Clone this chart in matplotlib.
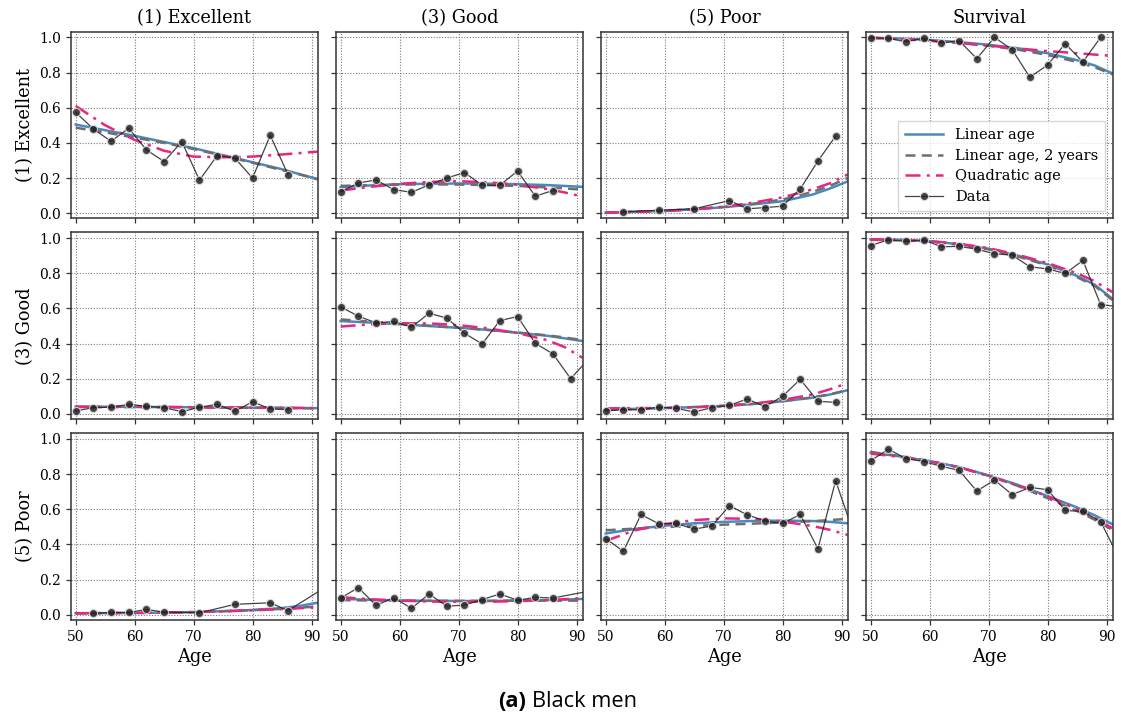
import numpy as np
import matplotlib.pyplot as plt

plt.rcParams['font.family'] = ['DejaVu Serif']

# observed transition shares, ages 50..92 in steps of 3 (nan = no observation)
ages = [50, 53, 56, 59, 62, 65, 68, 71, 74, 77, 80, 83, 86, 89, 92]
nan = np.nan

ex_ex = [0.574, 0.479, 0.409, 0.483, 0.360, 0.294, 0.407, 0.188, 0.328, 0.314, 0.200, 0.443, 0.220, nan, nan]
ex_good = [0.121, 0.172, 0.189, 0.134, 0.119, 0.161, 0.200, 0.231, 0.159, 0.159, 0.240, 0.097, 0.129, nan, nan]
ex_poor = [nan, 0.008, nan, 0.017, nan, 0.025, nan, 0.072, 0.025, 0.032, 0.040, 0.138, 0.297, 0.438, nan]
ex_surv = [0.998, 0.994, 0.975, 0.996, 0.968, 0.981, 0.879, 1.000, 0.930, 0.773, 0.843, 0.964, 0.860, 1.000, nan]

good_ex = [0.017, 0.036, 0.038, 0.055, 0.044, 0.036, 0.013, 0.038, 0.055, 0.015, 0.070, 0.028, 0.025, nan, nan]
good_good = [0.609, 0.556, 0.518, 0.526, 0.493, 0.573, 0.545, 0.459, 0.398, 0.531, 0.554, 0.402, 0.342, 0.201, 0.310]
good_poor = [0.017, 0.025, 0.023, 0.040, 0.032, 0.011, 0.036, 0.049, 0.085, 0.042, 0.100, 0.197, 0.072, 0.066, nan]
good_surv = [0.958, 0.990, 0.981, 0.990, 0.951, 0.953, 0.937, 0.911, 0.903, 0.837, 0.825, 0.799, 0.873, 0.622, 0.610]

poor_ex = [nan, 0.008, 0.013, 0.013, 0.030, 0.015, nan, 0.011, nan, 0.059, nan, 0.068, 0.023, nan, 0.149]
poor_good = [0.095, 0.154, 0.053, 0.097, 0.036, 0.118, 0.048, 0.055, 0.086, 0.118, 0.082, 0.099, 0.095, nan, 0.133]
poor_poor = [0.433, 0.361, 0.570, 0.517, 0.519, 0.487, 0.504, 0.620, 0.568, 0.534, 0.519, 0.570, 0.375, 0.762, 0.470]
poor_surv = [0.876, 0.941, 0.888, 0.871, 0.844, 0.821, 0.703, 0.766, 0.683, 0.724, 0.711, 0.593, 0.587, 0.530, 0.330]

# fitted probabilities: linear age, linear age 2 years, quadratic age
fit_ages = [50, 55, 60, 65, 70, 75, 80, 85, 88, 91]

ex_ex_lin = [.504, .472, .440, .405, .370, .330, .290, .250, .222, .195]
ex_ex_lin2 = [.486, .460, .430, .400, .365, .327, .287, .245, .220, .193]
ex_ex_quad = [.610, .500, .417, .355, .322, .318, .322, .334, .342, .350]

ex_good_lin = [.148, .158, .165, .168, .169, .168, .165, .160, .155, .150]
ex_good_lin2 = [.155, .160, .163, .164, .163, .160, .155, .147, .141, .134]
ex_good_quad = [.129, .150, .167, .178, .182, .176, .162, .137, .118, .095]

ex_poor_lin = [.004, .008, .013, .022, .034, .050, .068, .105, .140, .180]
ex_poor_lin2 = [.004, .008, .014, .023, .036, .054, .078, .120, .155, .200]
ex_poor_quad = [.003, .007, .013, .022, .037, .060, .090, .135, .170, .220]

ex_surv_lin = [.998, .993, .985, .973, .958, .938, .910, .870, .840, .795]
ex_surv_lin2 = [.997, .991, .982, .969, .952, .930, .900, .860, .830, .790]
ex_surv_quad = [.998, .990, .980, .968, .953, .937, .922, .910, .902, .895]

good_ex_lin = [.042, .041, .040, .039, .038, .037, .036, .035, .034, .033]
good_ex_lin2 = [.040, .039, .039, .038, .037, .036, .035, .034, .033, .032]
good_ex_quad = [.040, .041, .041, .040, .039, .037, .036, .035, .034, .033]

good_good_lin = [.528, .520, .510, .500, .490, .478, .462, .445, .430, .415]
good_good_lin2 = [.538, .525, .513, .502, .490, .478, .463, .447, .435, .420]
good_good_quad = [.497, .510, .516, .515, .505, .487, .460, .420, .380, .320]

good_poor_lin = [.026, .029, .033, .039, .046, .056, .072, .092, .110, .135]
good_poor_lin2 = [.024, .028, .033, .039, .047, .058, .074, .094, .112, .135]
good_poor_quad = [.032, .033, .035, .038, .045, .058, .080, .110, .140, .175]

good_surv_lin = [.992, .990, .983, .965, .940, .900, .850, .785, .735, .655]
good_surv_lin2 = [.990, .988, .980, .962, .936, .895, .845, .778, .728, .648]
good_surv_quad = [.993, .990, .983, .968, .943, .905, .858, .800, .755, .693]

poor_ex_lin = [.009, .009, .010, .012, .015, .020, .027, .038, .050, .068]
poor_ex_lin2 = [.008, .009, .010, .012, .015, .020, .026, .033, .040, .047]
poor_ex_quad = [.008, .009, .010, .012, .015, .019, .025, .032, .037, .042]

poor_good_lin = [.090, .085, .081, .079, .078, .078, .080, .083, .086, .090]
poor_good_lin2 = [.083, .081, .080, .079, .079, .079, .080, .080, .080, .080]
poor_good_quad = [.100, .088, .080, .075, .073, .074, .077, .083, .088, .095]

poor_poor_lin = [.462, .488, .506, .520, .528, .533, .535, .533, .528, .520]
poor_poor_lin2 = [.480, .490, .498, .505, .512, .518, .525, .532, .538, .545]
poor_poor_quad = [.420, .480, .515, .538, .548, .545, .530, .505, .483, .454]

poor_surv_lin = [.922, .900, .873, .840, .792, .738, .675, .610, .565, .515]
poor_surv_lin2 = [.926, .902, .874, .838, .790, .732, .663, .590, .540, .482]
poor_surv_quad = [.916, .897, .873, .838, .790, .735, .673, .600, .550, .492]

states = ['(1) Excellent', '(3) Good', '(5) Poor']
columns = ['(1) Excellent', '(3) Good', '(5) Poor', 'Survival']

data = [[ex_ex, ex_good, ex_poor, ex_surv],
        [good_ex, good_good, good_poor, good_surv],
        [poor_ex, poor_good, poor_poor, poor_surv]]
fit_lin = [[ex_ex_lin, ex_good_lin, ex_poor_lin, ex_surv_lin],
           [good_ex_lin, good_good_lin, good_poor_lin, good_surv_lin],
           [poor_ex_lin, poor_good_lin, poor_poor_lin, poor_surv_lin]]
fit_lin2 = [[ex_ex_lin2, ex_good_lin2, ex_poor_lin2, ex_surv_lin2],
            [good_ex_lin2, good_good_lin2, good_poor_lin2, good_surv_lin2],
            [poor_ex_lin2, poor_good_lin2, poor_poor_lin2, poor_surv_lin2]]
fit_quad = [[ex_ex_quad, ex_good_quad, ex_poor_quad, ex_surv_quad],
            [good_ex_quad, good_good_quad, good_poor_quad, good_surv_quad],
            [poor_ex_quad, poor_good_quad, poor_poor_quad, poor_surv_quad]]

c_lin = '#4a89c0'
c_lin2 = '#6e6e6e'
c_quad = '#e5287f'

fig, axes = plt.subplots(3, 4, figsize=(11.21, 7.18), dpi=100, sharex=True, sharey=True)
fig.subplots_adjust(left=0.0633, right=0.9926, top=0.9558, bottom=0.1365,
                    wspace=0.074, hspace=0.075)

x = np.array(ages, dtype=float)
for i in range(3):
    for j in range(4):
        ax = axes[i, j]
        y = np.array(data[i][j], dtype=float)
        ok = ~np.isnan(y)
        ax.plot(fit_ages, fit_lin[i][j], color=c_lin, lw=1.8, label='Linear age')
        ax.plot(fit_ages, fit_lin2[i][j], color=c_lin2, lw=1.8, ls=(0, (4, 2.5)),
                label='Linear age, 2 years')
        ax.plot(fit_ages, fit_quad[i][j], color=c_quad, lw=1.8, ls=(0, (6, 2.5, 1.2, 2.5)),
                label='Quadratic age')
        ax.plot(x[ok], y[ok], color='#222222', lw=0.9, alpha=0.85, marker='o', ms=5.8,
                mfc='#222222', mec='#dddddd', mew=0.8, label='Data')

        ax.grid(True, color='#7a7a7a', ls=(0, (1, 1.5)), lw=0.8)
        ax.set_axisbelow(True)
        for s in ax.spines.values():
            s.set_color('#333333')
            s.set_linewidth(1.1)
        ax.tick_params(labelsize=10, length=3.5, width=0.9, color='#333333')
        if i == 0:
            ax.set_title(columns[j], fontsize=12.8, pad=6)
        if j == 0:
            ax.set_ylabel(states[i], fontsize=12.8)
        if i == 2:
            ax.set_xlabel('Age', fontsize=12.8, labelpad=3)

axes[0, 0].set_xlim(49.2, 91.05)
axes[0, 0].set_ylim(-0.03, 1.032)
axes[0, 0].set_xticks([50, 60, 70, 80, 90])
axes[0, 0].set_yticks([0.0, 0.2, 0.4, 0.6, 0.8, 1.0])

leg = axes[0, 3].legend(loc='lower right', fontsize=10.5, frameon=True, fancybox=False,
                        handlelength=2.6, borderpad=0.5, labelspacing=0.45)
leg.get_frame().set_edgecolor('#cccccc')
leg.get_frame().set_linewidth(1.0)

# caption under the grid
fig.text(0.469, 0.0153, '(a)', fontsize=15.7, fontweight='bold', family='Open Sans',
         ha='right', va='baseline')
fig.text(0.4746, 0.0153, 'Black men', fontsize=15.7, family='Open Sans',
         ha='left', va='baseline')

fig.savefig('out.png', dpi=100)
